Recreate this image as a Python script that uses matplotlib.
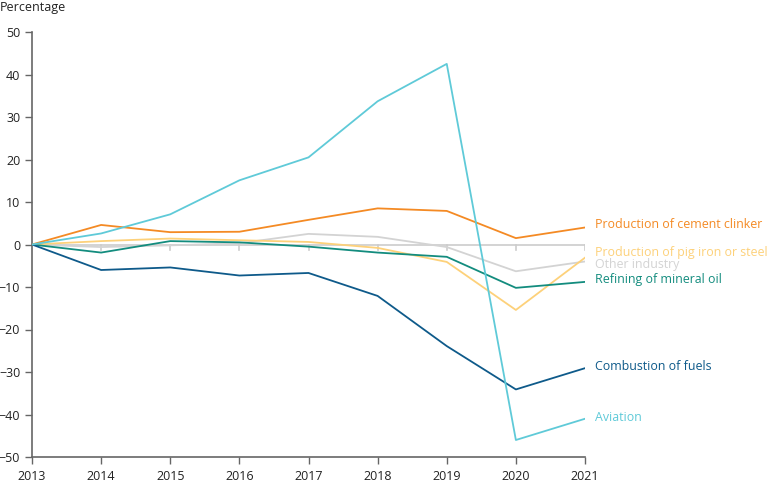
import matplotlib.pyplot as plt
import numpy as np

plt.rcParams['font.family'] = ['Open Sans', 'DejaVu Sans']

years = [2013, 2014, 2015, 2016, 2017, 2018, 2019, 2020, 2021]

aviation = [0, 2.6, 7.1, 15.1, 20.5, 33.7, 42.5, -46.0, -41.0]
cement = [0, 4.6, 2.9, 3.0, 5.8, 8.5, 7.9, 1.5, 4.0]
pig_iron = [0, 0.8, 1.4, 1.0, 0.6, -0.8, -4.1, -15.4, -3.1]
other_industry = [0, -0.6, -0.2, 0.3, 2.5, 1.8, -0.6, -6.3, -4.0]
refining = [0, -1.9, 0.8, 0.5, -0.5, -1.9, -2.9, -10.2, -8.8]
combustion = [0, -6.0, -5.4, -7.3, -6.7, -12.1, -23.9, -34.1, -29.1]

series = [
    ("Other industry", other_industry, "#d3d3d3"),
    ("Production of pig iron or steel", pig_iron, "#fdd17a"),
    ("Refining of mineral oil", refining, "#138c7e"),
    ("Production of cement clinker", cement, "#f48a24"),
    ("Combustion of fuels", combustion, "#0e5a8a"),
    ("Aviation", aviation, "#5fcad8"),
]

# label y positions (data units) to avoid overlap at the right end
label_y = {
    "Production of cement clinker": 4.8,
    "Production of pig iron or steel": -1.9,
    "Other industry": -4.6,
    "Refining of mineral oil": -8.3,
    "Combustion of fuels": -28.7,
    "Aviation": -40.6,
}

fig = plt.figure(figsize=(7.68, 4.83), dpi=100)
ax = fig.add_axes([32 / 768, 26 / 483, 553 / 768, 425 / 483])

ax.axhline(0, color="#cccccc", lw=1.2, zorder=1)
for yr in years[1:]:
    ax.plot([yr, yr], [0, -1.2], color="#cccccc", lw=1.2, zorder=1)

for name, vals, col in series:
    ax.plot(years, vals, color=col, lw=1.3, zorder=3)
    ax.text(2021.145, label_y[name], name, color=col, fontsize=8.9,
            va="center", ha="left", clip_on=False)

ax.set_xlim(2013, 2021)
ax.set_ylim(-50, 50)
ax.set_xticks(years)
ax.set_yticks(np.arange(-50, 51, 10))
ax.tick_params(axis="both", colors="#666666", labelcolor="#222222",
               labelsize=9, length=5, width=1)
ax.tick_params(axis="x", pad=4)

for side in ["top", "right"]:
    ax.spines[side].set_visible(False)
for side in ["left", "bottom"]:
    ax.spines[side].set_color("#666666")
    ax.spines[side].set_linewidth(1.2)

fig.text(0, 1 - 7 / 483, "Percentage", fontsize=9, color="#222222",
         va="center", ha="left")

fig.savefig("out.png", dpi=100)
